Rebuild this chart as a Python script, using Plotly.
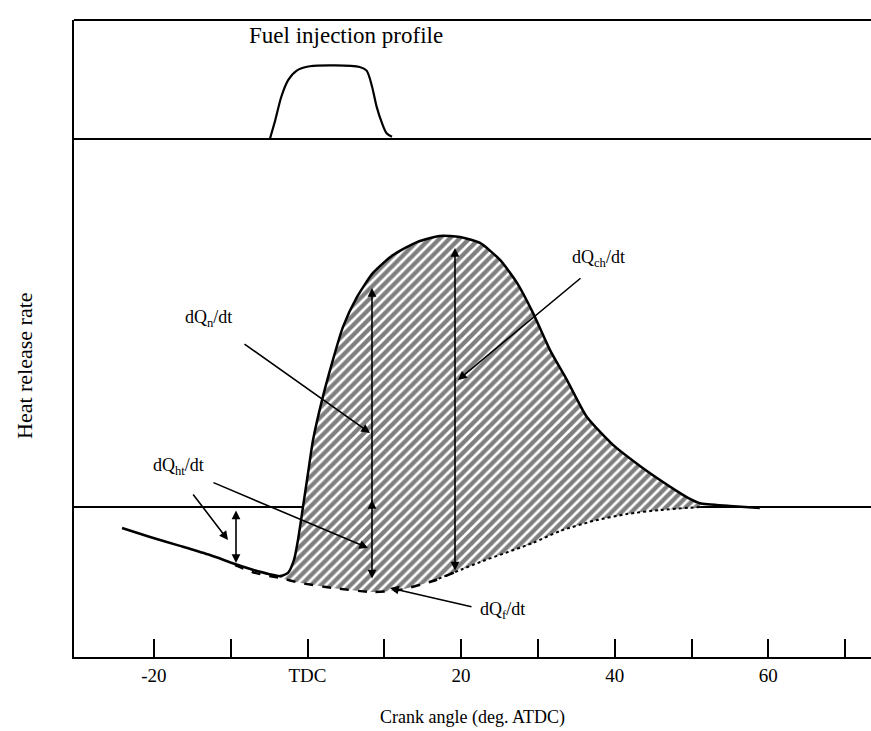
import numpy as np
import plotly.graph_objects as go

# ---------------- data ----------------
# Fuel injection profile (crank angle deg, relative rate)
inj_deg = [-4.9, -4.2, -3.4, -2.5, -1.4, 0.3, 6.8, 7.7, 8.4, 9.0, 9.7, 10.3, 11.0]
inj_val = [0.0, 0.26, 0.59, 0.82, 0.95, 1.01, 1.0, 0.95, 0.73, 0.45, 0.22, 0.08, 0.03]

# Net heat release rate dQn/dt (arbitrary units, solid curve)
net_deg = [-24.15, -20.5, -16.6, -12.7, -9.44, -6.58, -3.58, -2.54, -1.76, -1.24,
           -0.59, 0.07, 0.72, 1.89, 3.19, 4.62, 6.45, 8.53, 11.13, 14.26, 17.25,
           19.86, 22.46, 25.07, 27.28, 29.36, 31.58, 33.79, 36.39, 39.78, 43.29,
           45.9, 48.1, 49.8, 51.1, 55.0, 58.9]
net_val = [-7.8, -11.1, -14.4, -17.8, -21.1, -23.7, -25.6, -24.4, -19.6, -12.2,
           0.0, 12.6, 24.8, 39.6, 53.3, 66.7, 77.8, 86.7, 93.3, 98.1, 100.4,
           100.0, 97.8, 91.5, 83.0, 71.9, 58.1, 47.0, 33.3, 23.0, 15.2,
           10.0, 5.9, 3.0, 1.4, 0.4, -0.4]

# Lower boundary (heat transfer / fuel curves, dashed then dotted)
low_deg = [-9.44, -6.84, -3.58, -0.98, 3.32, 8.53, 12.04, 16.34, 19.21, 22.85,
           29.36, 32.88, 37.17, 41.6, 45.9, 51.1]
low_val = [-21.5, -24.4, -26.3, -28.1, -30.0, -31.5, -30.7, -27.4, -24.1, -20.0,
           -13.3, -8.9, -5.2, -2.6, -1.1, 0.0]

x_tickvals = [-20, -10, 0, 10, 20, 30, 40, 50, 60, 70]
x_ticktext = ["-20", "", "TDC", "", "20", "", "40", "", "60", ""]

# ---------------- figure ----------------
SERIF = "Liberation Serif, Times New Roman, serif"
W, H = 871, 731
ML, MR, MT, MB = 74, 0, 20, 74
split = (657 - 139) / (H - MT - MB)

net_deg_a = np.array(net_deg); net_val_a = np.array(net_val)
low_deg_a = np.array(low_deg); low_val_a = np.array(low_val)
x0, x1 = -3.6, 51.2
mu = (net_deg_a >= x0) & (net_deg_a <= x1)
ml = (low_deg_a >= x0) & (low_deg_a <= x1)
poly_x = np.concatenate([net_deg_a[mu], low_deg_a[ml][::-1]])
poly_y = np.concatenate([net_val_a[mu], low_val_a[ml][::-1]])

fig = go.Figure()

# hatched area
fig.add_trace(go.Scatter(
    x=poly_x, y=poly_y, mode="lines", fill="toself",
    line=dict(width=0, color="black", shape="spline", smoothing=0.6),
    fillcolor="white",
    fillpattern=dict(shape="/", size=7, solidity=0.62, fgcolor="black", bgcolor="white"),
    hoverinfo="skip", showlegend=False))

# lower dashed curve
md = low_deg_a <= 19.3
fig.add_trace(go.Scatter(
    x=low_deg_a[md], y=low_val_a[md], mode="lines",
    line=dict(color="black", width=2.5, dash="dash", shape="spline", smoothing=0.6),
    showlegend=False))
# lower dotted curve
mdot = low_deg_a >= 16
fig.add_trace(go.Scatter(
    x=low_deg_a[mdot], y=low_val_a[mdot], mode="lines",
    line=dict(color="black", width=2, dash="dot", shape="spline", smoothing=0.6),
    showlegend=False))

# net heat release solid curve
fig.add_trace(go.Scatter(
    x=net_deg, y=net_val, mode="lines",
    line=dict(color="black", width=2.5, shape="spline", smoothing=0.6),
    showlegend=False))

# injection profile
fig.add_trace(go.Scatter(
    x=inj_deg, y=inj_val, mode="lines", yaxis="y2",
    line=dict(color="black", width=2.2, shape="spline", smoothing=0.8),
    showlegend=False))

ymin, ymax = (507 - 657) / 2.7, (507 - 139) / 2.7
xmin, xmax = (74 - 307.5) / 7.68, (871 - 307.5) / 7.68

fig.update_layout(
    width=W, height=H,
    margin=dict(l=ML, r=MR, t=MT, b=MB),
    paper_bgcolor="white", plot_bgcolor="white",
    font=dict(family=SERIF, color="black", size=17),
    xaxis=dict(range=[xmin, xmax], tickvals=x_tickvals, ticktext=x_ticktext,
               ticks="inside", ticklen=18, tickwidth=2, tickcolor="black",
               showline=True, linewidth=2, linecolor="black", mirror=False,
               showgrid=False, zeroline=False, anchor="y",
               tickfont=dict(family=SERIF, size=19),
               title=dict(text="Crank angle (deg. ATDC)", standoff=26,
                          font=dict(family=SERIF, size=18))),
    yaxis=dict(domain=[0, split], range=[ymin, ymax], showticklabels=False,
               ticks="", showgrid=False, zeroline=True, zerolinecolor="black",
               zerolinewidth=1.5, showline=True, linewidth=2, linecolor="black"),
    yaxis2=dict(domain=[split, 1], range=[0, (139 - 20) / 72], anchor="x",
                showticklabels=False, ticks="", showgrid=False, zeroline=False,
                showline=True, linewidth=2, linecolor="black"),
)

# panel lines
fig.add_shape(type="line", xref="paper", yref="paper", x0=0, x1=1, y0=split, y1=split,
              line=dict(color="black", width=2))
fig.add_shape(type="line", xref="paper", yref="paper", x0=0, x1=1, y0=1, y1=1,
              line=dict(color="black", width=2))

# y title
fig.add_annotation(xref="paper", yref="paper", x=(24 - ML) / (W - ML), y=(657 - 365) / (H - MT - MB),
                   xanchor="center", yanchor="middle",
                   text="Heat release rate", textangle=-90, showarrow=False,
                   font=dict(family=SERIF, size=22))
# injection label
fig.add_annotation(xref="x", yref="y2", x=(346 - 307.5) / 7.68, y=(139 - 35) / 72,
                   xanchor="center", yanchor="middle",
                   text="Fuel injection profile", showarrow=False,
                   font=dict(family=SERIF, size=23))

def px2deg(px):
    return (px - 307.5) / 7.68

def py2val(py):
    return (507 - py) / 2.7

labels = [("dQ<sub>n</sub>/dt", 208, 318), ("dQ<sub>ch</sub>/dt", 598, 258),
          ("dQ<sub>ht</sub>/dt", 178, 466), ("dQ<sub>f</sub>/dt", 502, 610)]
for t, px, py in labels:
    fig.add_annotation(x=px2deg(px), y=py2val(py), text=t, showarrow=False,
                       font=dict(family=SERIF, size=18))

def arrow(xs, ys, xe, ye, side="end"):
    fig.add_annotation(x=px2deg(xe), y=py2val(ye), ax=px2deg(xs), ay=py2val(ys),
                       axref="x", ayref="y", xref="x", yref="y", text="",
                       showarrow=True, arrowhead=2, arrowsize=1.1, arrowwidth=1.6,
                       arrowcolor="black", arrowside=side, standoff=0, startstandoff=0)

arrow(243, 343, 370, 433)          # dQn leader
arrow(582, 277, 458, 380)          # dQch leader
arrow(192, 493, 228, 540)          # dQht leader 1
arrow(212, 482, 368, 548)          # dQht leader 2
arrow(473, 607, 390, 588)          # dQf leader
arrow(236, 509, 236, 563, "end+start")   # heat transfer double arrow
arrow(372, 580, 372, 288, "end+start")   # vertical at ~8 deg
arrow(372, 507, 372, 500)
arrow(455, 572, 455, 248, "end+start")   # vertical at ~19 deg

fig.write_html("out.html")
